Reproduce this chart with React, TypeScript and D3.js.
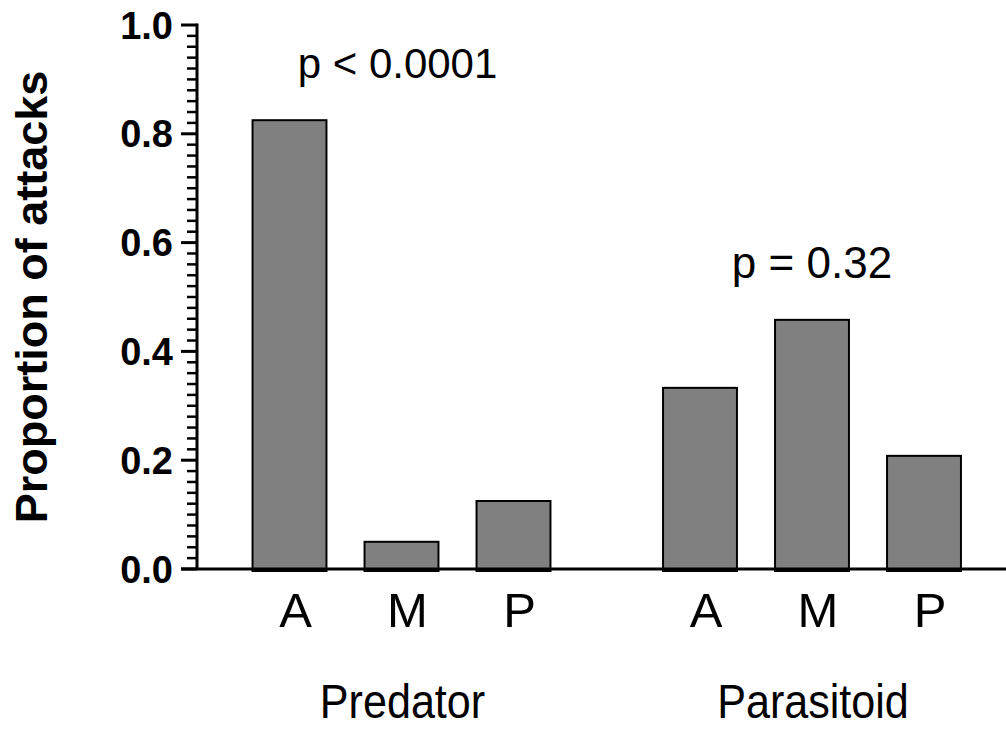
import React from "react";
import * as d3 from "d3";

const groups = ["Predator", "Parasitoid"];
const categories = ["A", "M", "P"];
const predatorValues = [0.825, 0.05, 0.125];
const parasitoidValues = [0.333, 0.458, 0.208];
const pLabels = ["p < 0.0001", "p = 0.32"];
const majorTicks = [0, 0.2, 0.4, 0.6, 0.8, 1.0];
const yTitle = "Proportion of attacks";

const W = 1006;
const H = 730;
const FONT = "'Liberation Sans', Arial, Helvetica, sans-serif";

export default function App() {
  const y = d3.scaleLinear().domain([0, 1]).range([569, 25]);
  const axisX = 197;
  const groupX = d3.scalePoint<string>().domain(groups).range([401.5, 812]);
  const inner = d3
    .scaleBand<string>()
    .domain(categories)
    .range([-168, 168])
    .paddingInner(0.34)
    .paddingOuter(0.17);
  const seriesValues = [predatorValues, parasitoidValues];
  const minorTicks = d3.range(0, 51).map((i) => i / 50).filter((v) => Math.round(v * 50) % 10 !== 0);
  const fmt = d3.format(".1f");

  return (
    <div style={{ position: "absolute", left: 0, top: 0 }}>
      <svg width={W} height={H} style={{ display: "block", background: "#fff" }}>
        {/* bars */}
        {groups.map((g, gi) => (
          <g key={g}>
            {categories.map((c, ci) => {
              const x0 = (groupX(g) as number) + (inner(c) as number);
              const v = seriesValues[gi][ci];
              return (
                <rect
                  key={c}
                  x={x0}
                  y={y(v)}
                  width={inner.bandwidth()}
                  height={y(0) - y(v) + 2}
                  fill="#808080"
                  stroke="#000"
                  strokeWidth={2}
                />
              );
            })}
            {categories.map((c) => (
              <text
                key={"l" + c}
                x={(groupX(g) as number) + (inner(c) as number) + inner.bandwidth() / 2 + 6}
                y={627}
                textAnchor="middle"
                fontFamily={FONT}
                fontSize={49}
              >
                {c}
              </text>
            ))}
            <text
              transform={`translate(${(groupX(g) as number) + 1}, 718) scale(0.88, 1)`}
              textAnchor="middle"
              fontFamily={FONT}
              fontSize={49}
            >
              {g}
            </text>
            <text
              x={(groupX(g) as number) - (gi === 0 ? 4 : 0)}
              y={y(d3.max(seriesValues[gi]) as number) - 42}
              textAnchor="middle"
              fontFamily={FONT}
              fontSize={gi === 0 ? 42 : 44}
            >
              {pLabels[gi]}
            </text>
          </g>
        ))}

        {/* x axis baseline */}
        <line x1={181} x2={W} y1={y(0)} y2={y(0)} stroke="#000" strokeWidth={3} />

        {/* y axis */}
        <line x1={axisX} x2={axisX} y1={y(1) - 1.5} y2={y(0)} stroke="#000" strokeWidth={3} />
        {minorTicks.map((t) => (
          <line key={"m" + t} x1={axisX - 10} x2={axisX} y1={y(t)} y2={y(t)} stroke="#000" strokeWidth={2.5} />
        ))}
        {majorTicks.map((t) => (
          <g key={"M" + t}>
            <line x1={axisX - 16} x2={axisX} y1={y(t)} y2={y(t)} stroke="#000" strokeWidth={3} />
            <text
              x={173}
              y={y(t)}
              dy={13.5}
              textAnchor="end"
              fontFamily={FONT}
              fontWeight="bold"
              fontSize={38}
            >
              {fmt(t)}
            </text>
          </g>
        ))}

        {/* y title */}
        <text
          transform={`translate(47, ${(y(0) + y(1)) / 2}) rotate(-90)`}
          textAnchor="middle"
          fontFamily={FONT}
          fontWeight="bold"
          fontSize={45}
        >
          {yTitle}
        </text>
      </svg>
    </div>
  );
}
